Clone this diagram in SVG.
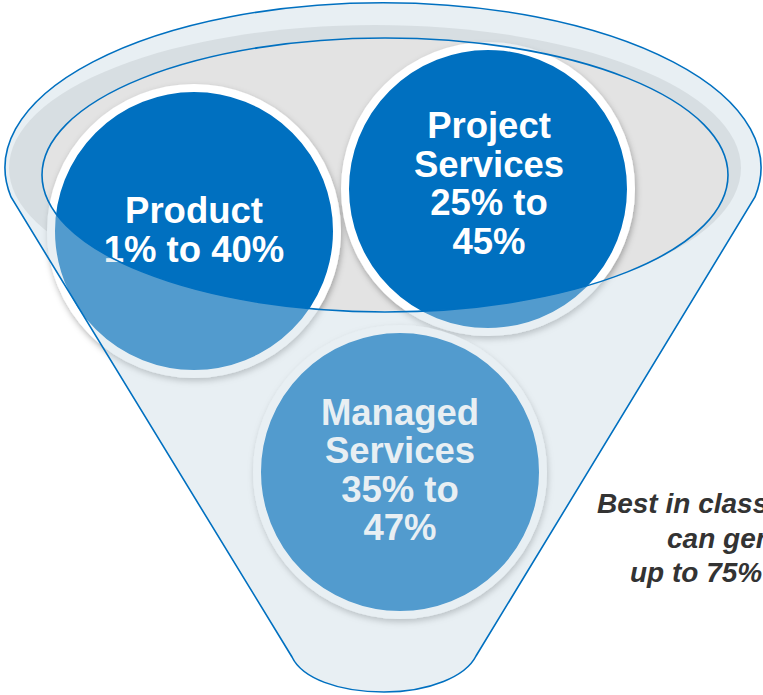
<svg xmlns="http://www.w3.org/2000/svg" width="763" height="695" viewBox="0 0 763 695">
  <defs>
    <filter id="soft-shadow" x="-20%" y="-20%" width="140%" height="140%">
      <feDropShadow dx="1" dy="3" stdDeviation="3" flood-color="#000" flood-opacity="0.3"/>
    </filter>
    <style>
      .disc { fill: #0070C0; stroke: #FFFFFF; stroke-width: 8; filter: url(#soft-shadow); }
      .disc-label { font-family: "Liberation Sans", Arial, sans-serif; font-weight: bold; font-size: 36.5px; fill: #FFFFFF; text-anchor: middle; }
      .outline { fill: none; stroke: #0070C0; stroke-width: 1.6; }
      .note { font-family: "Liberation Sans", Arial, sans-serif; font-weight: bold; font-style: italic; font-size: 28px; fill: #333333; }
    </style>
  </defs>

  <!-- inner wall of the funnel, seen through the opening -->
  <g id="funnel-back">
    <ellipse cx="375" cy="168" rx="366" ry="143" fill="#E3E3E3"/>
  </g>

  <g id="node-product">
    <circle class="disc" cx="194" cy="231" r="143"/>
    <text class="disc-label" x="194" y="223">Product</text>
    <text class="disc-label" x="194" y="262">1% to 40%</text>
  </g>

  <g id="node-project">
    <circle class="disc" cx="488" cy="189" r="143"/>
    <text class="disc-label" x="489" y="138">Project</text>
    <text class="disc-label" x="489" y="177">Services</text>
    <text class="disc-label" x="489" y="215">25% to</text>
    <text class="disc-label" x="489" y="254">45%</text>
  </g>

  <g id="node-managed">
    <circle class="disc" cx="400" cy="472" r="143"/>
    <text class="disc-label" x="400" y="425">Managed</text>
    <text class="disc-label" x="400" y="463">Services</text>
    <text class="disc-label" x="400" y="502">35% to</text>
    <text class="disc-label" x="400" y="540">47%</text>
  </g>

  <!-- translucent front of the funnel: body and rim, with the opening cut out -->
  <g id="funnel-front">
    <path fill="#C6D9E3" fill-opacity="0.41" fill-rule="evenodd"
          d="M 11,197 A 378 165 0 1 1 755,197 L 476,656 C 466,676 430,692 384,692 C 338,692 302,678 292,657 Z
             M 42,175 A 343 137 0 1 0 728,175 A 343 137 0 1 0 42,175 Z"/>
    <path class="outline" d="M 11,197 A 378 165 0 1 1 755,197 L 476,656 C 466,676 430,692 384,692 C 338,692 302,678 292,657 Z"/>
    <ellipse class="outline" cx="385" cy="175" rx="343" ry="137"/>
  </g>

  <g id="note">
    <text class="note" x="597" y="513">Best in class</text>
    <text class="note" x="667" y="548">can gen</text>
    <text class="note" x="630" y="582">up to 75%</text>
  </g>
</svg>
